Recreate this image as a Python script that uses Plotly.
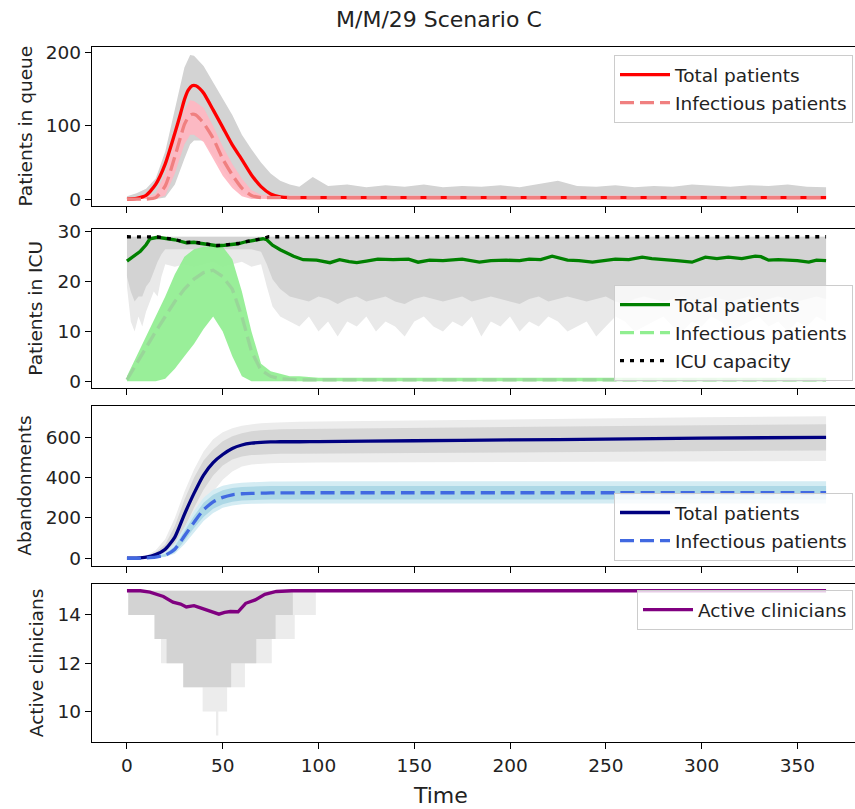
import plotly.graph_objects as go

# ---------------- data ----------------
# Panel 1: patients in queue
t_q = [0, 5, 10, 15, 20, 25, 28, 30, 32, 34,
       36, 38, 40, 45, 50, 55, 60, 65, 70, 75,
       80, 85, 90, 365]
q_total = [0, 1, 5, 20, 48, 90, 117, 136, 149, 155,
           155, 151, 145, 122, 98, 74, 54, 33, 17, 7,
           3, 2, 2, 2]
q_infect = [0, 0, 0, 2, 18, 58, 85, 102, 112, 116,
            115, 110, 104, 83, 55, 33, 15, 5, 2, 2,
            2, 2, 2, 2]

t_q_env = [0, 5, 10, 15, 20, 25, 30, 33, 35, 40,
           45, 50, 55, 60, 65, 70, 75, 80, 85, 90,
           97, 105, 115, 125, 135, 145, 155, 165, 175, 185,
           195, 205, 215, 225, 235, 245, 255, 265, 275, 285,
           295, 305, 315, 325, 335, 345, 355, 365]
q_runs_hi = [4, 8, 14, 28, 65, 123, 180, 197, 196, 182,
             160, 138, 115, 88, 68, 50, 35, 25, 20, 17,
             30, 18, 20, 16, 19, 17, 20, 16, 18, 17,
             19, 16, 20, 25, 18, 17, 19, 16, 18, 17,
             20, 18, 17, 19, 18, 20, 17, 16]
q_runs_lo = [0, 0, 0, 0, 2, 20, 55, 75, 80, 80,
             60, 40, 22, 8, 2, 1, 0, 0, 0, 0,
             0, 0, 0, 0, 0, 0, 0, 0, 0, 0,
             0, 0, 0, 0, 0, 0, 0, 0, 0, 0,
             0, 0, 0, 0, 0, 0, 0, 0]
t_q_inf_env = [0, 10, 15, 20, 25, 30, 33, 35, 40, 45, 50, 55, 60, 65, 70, 75, 80, 365]
q_inf_runs_hi = [1, 2, 8, 35, 80, 122, 135, 134, 125, 100, 72, 48, 28, 12, 6, 5, 5, 5]
q_inf_runs_lo = [0, 0, 0, 5, 35, 75, 88, 88, 78, 55, 32, 15, 4, 0, 0, 0, 0, 0]

# Panel 2: patients in ICU
t_icu = [0, 3, 7, 10, 12, 16, 20, 25, 31, 35,
         38, 42, 47, 51, 55, 58, 62, 67, 71, 73,
         76, 80, 83, 87, 92, 99, 106, 111, 116, 120,
         125, 131, 139, 147, 152, 158, 165, 175, 184, 190,
         198, 205, 210, 216, 222, 230, 236, 243, 249, 255,
         262, 269, 274, 279, 287, 295, 302, 308, 314, 321,
         328, 331, 335, 340, 345, 350, 356, 360, 365]
icu_total = [24.1, 24.9, 26.1, 27.4, 28.6, 28.9, 28.7, 28.4, 27.8, 27.9,
             27.7, 27.5, 27.2, 27.3, 27.4, 27.6, 28.0, 28.3, 28.6, 28.4,
             27.3, 26.4, 25.8, 25.1, 24.4, 24.3, 23.8, 24.4, 24.0, 23.8,
             24.1, 24.5, 24.4, 24.5, 23.9, 24.3, 24.2, 24.5, 23.9, 24.2,
             24.3, 24.2, 24.5, 24.4, 25.1, 24.3, 24.2, 23.9, 24.2, 24.5,
             24.4, 24.9, 24.6, 24.5, 24.2, 23.9, 24.9, 24.6, 24.9, 24.6,
             25.1, 25.0, 24.3, 24.4, 24.3, 24.2, 23.9, 24.3, 24.2]
t_icu_inf = [0, 5, 10, 15, 20, 25, 30, 35, 40, 45, 50, 55, 60, 65, 70, 75, 80, 90, 365]
icu_infect = [0.3, 3.5, 7, 10, 13, 16, 18.5, 20.5, 21.8, 22.3, 21, 18.5, 13, 6, 2.2, 1, 0.5, 0.3, 0.3]
t_icu_inf_env = [0, 5, 10, 15, 20, 25, 30, 35, 40, 45, 50, 55, 60, 65, 70, 75, 80, 85, 90, 100, 365]
icu_inf_runs_hi = [1, 5, 9, 13, 17, 21.5, 25, 26.5, 27, 27, 27, 24.5, 18, 10, 3.5, 2, 1.5, 1, 1, 0.7, 0.7]
icu_inf_runs_lo = [0, 0, 0, 0, 0.5, 2.5, 5, 7.5, 10.5, 13, 10, 5, 1, 0, 0, 0, 0, 0, 0, 0, 0]
t_cap = [0, 12, 16, 20, 25, 31, 35, 38, 42, 47, 51, 55, 58, 62, 67, 71, 74, 365]
icu_capacity = [29, 29, 28.95, 28.75, 28.45, 27.85, 27.95, 27.75, 27.55, 27.25,
                27.35, 27.45, 27.65, 28.05, 28.35, 28.65, 29, 29]
t_icu_env = [0, 2, 4, 6, 8, 10, 12, 14, 16, 18,
             20, 25, 30, 35, 40, 45, 50, 55, 60, 65,
             70, 73, 76, 80, 85,
             90, 95, 100, 105, 110, 115, 120, 125, 130, 135,
             140, 145, 150, 155, 160, 165, 170, 175, 180, 185,
             190, 195, 200, 205, 210, 215, 220, 225, 230, 235,
             240, 245, 250, 255, 260, 265, 270, 275, 280, 285,
             290, 295, 300, 305, 310, 315, 320, 325, 330, 335,
             340, 345, 350, 355, 360, 365]
icu_runs_hi = [29] * len(t_icu_env)
icu_runs_dense_lo = [21, 18, 16, 17, 17, 19, 20, 22, 24, 25.5,
                     26.5, 26.5, 26.5, 26.5, 26.5, 26.5, 26.5, 26.5, 26.5, 26.5,
                     26, 23.5, 20.5, 18.5, 17,
                     16.5, 16, 17, 16.5, 15.5, 16.5, 17, 16, 16.5, 17,
                     16, 15.5, 16.5, 17, 16.5, 16, 16.5, 17, 16, 16.5,
                     17, 16.5, 16, 15.5, 16.5, 17, 16, 16.5, 17, 16.5,
                     16, 16.5, 17, 16, 15.5, 16.5, 17, 16.5, 16, 16.5,
                     17, 16, 16.5, 17, 16.5, 16, 16.5, 17, 16, 16.5,
                     17, 16.5, 16, 16.5, 17, 16.5]
icu_runs_sparse_lo = [19, 12, 10, 13, 11, 14, 16, 18, 17, 21,
                      23.5, 23, 23.5, 23, 23.5, 24, 23, 23.5, 24, 23,
                      23.5, 19, 15, 13, 12,
                      11, 13, 10, 12, 9, 12, 11, 13, 10, 12,
                      11, 9, 12, 13, 11, 10, 12, 11, 13, 9,
                      12, 11, 13, 10, 12, 11, 13, 12, 10, 11,
                      12, 9, 11, 13, 12, 10, 11, 12, 13, 11,
                      10, 12, 11, 13, 12, 10, 11, 12, 13, 11,
                      12, 10, 12, 11, 13, 12]

# Panel 3: abandonments
t_ab = [0, 5, 10, 15, 20, 25, 30, 35, 40, 45, 50, 55, 60, 65, 70, 75, 80, 90, 100, 150, 200, 250, 300, 365]
ab_total = [0, 1, 5, 18, 45, 105, 218, 322, 413, 475, 515, 545, 562, 571, 575, 577, 578, 578, 579, 583, 587, 591, 596, 600]
ab_infect = [0, 0, 2, 6, 15, 45, 110, 178, 240, 280, 302, 315, 320, 322, 323, 324, 324, 325, 325, 325, 325, 325, 325, 325]
ab_runs_dense_hi = [0, 2, 8, 28, 70, 160, 290, 400, 485, 540, 580, 605, 620, 630, 635, 638, 640, 641, 642, 645, 650, 655, 660, 665]
ab_runs_dense_lo = [0, 0, 2, 10, 25, 65, 150, 250, 340, 410, 460, 490, 505, 512, 515, 517, 518, 519, 520, 522, 525, 527, 530, 535]
ab_runs_sparse_hi = [0, 3, 12, 40, 95, 200, 330, 440, 530, 590, 625, 645, 658, 665, 670, 673, 675, 677, 678, 684, 690, 695, 700, 705]
ab_runs_sparse_lo = [0, 0, 0, 5, 15, 40, 100, 180, 260, 330, 390, 430, 455, 465, 470, 472, 473, 474, 475, 476, 478, 479, 480, 482]
ab_inf_dense_hi = [0, 0, 3, 9, 22, 60, 135, 210, 275, 315, 338, 348, 353, 356, 357, 358, 358, 358, 358, 358, 358, 358, 358, 358]
ab_inf_dense_lo = [0, 0, 1, 3, 9, 30, 85, 150, 205, 245, 268, 280, 286, 289, 290, 291, 291, 291, 291, 291, 291, 291, 291, 291]
ab_inf_sparse_hi = [0, 1, 4, 12, 30, 75, 155, 235, 300, 340, 360, 370, 375, 378, 380, 381, 381, 382, 382, 382, 382, 382, 382, 382]
ab_inf_sparse_lo = [0, 0, 0, 2, 6, 22, 70, 130, 185, 225, 250, 262, 268, 270, 272, 272, 272, 272, 272, 272, 272, 272, 272, 272]

# Panel 4: active clinicians
t_clin = [0, 7, 12, 19, 24, 28, 31, 35, 38, 42, 48, 51, 54, 58, 62, 67, 72, 78, 86, 365]
clinicians = [15, 15, 14.94, 14.76, 14.53, 14.45, 14.33, 14.38, 14.3, 14.2,
              14.03, 14.1, 14.14, 14.13, 14.48, 14.62, 14.85, 14.97, 15, 15]
t_clin_dense = [0.7, 14.4, 20.7, 29.4, 54.4, 67.5, 77.6, 86.6]
clin_dense_lo = [14, 13, 12, 11, 12, 13, 14, 15]
t_clin_sparse = [0.7, 14.4, 17.8, 29.4, 39.5, 46.5, 47.7, 52.3, 61.6, 75.6, 87.6, 98.6]
clin_sparse_lo = [14, 13, 12, 11, 10, 9, 10, 11, 12, 13, 14, 15]
clin_max = 15

x_ticks = [0, 50, 100, 150, 200, 250, 300, 350]

# ---------------- layout helpers ----------------
W, H = 855, 809
FONT = "DejaVu Sans"
TXT = "#222222"
LW = 3.3
DASH = "14px,6px"
DOT = "4px,6px"


def fy(p):
    return 1 - p / H


panels = [(47, 206), (229.3, 388), (405.7, 565.7), (584, 742.3)]
yranges = [[-9.5, 208], [-1.35, 30.5], [-37, 757], [8.72, 15.28]]
yticks = [[0, 100, 200], [0, 10, 20, 30], [0, 200, 400, 600], [10, 12, 14]]
ylabels = ["Patients in queue", "Patients in ICU", "Abandonments", "Active clinicians"]
ylabel_x = [25, 36, 25, 36]
legend_tops = [55, 285, 493, 590]

fig = go.Figure()


def ax(i):
    return ("x" if i == 0 else f"x{i+1}"), ("y" if i == 0 else f"y{i+1}")


def band(i, x, lo, hi, color, shape="linear"):
    xa, ya = ax(i)
    fig.add_trace(go.Scatter(x=x, y=lo, mode="lines", line=dict(width=0, color=color, shape=shape),
                             showlegend=False, hoverinfo="skip", xaxis=xa, yaxis=ya))
    fig.add_trace(go.Scatter(x=x, y=hi, mode="lines", line=dict(width=0, color=color, shape=shape),
                             fill="tonexty", fillcolor=color,
                             showlegend=False, hoverinfo="skip", xaxis=xa, yaxis=ya))


def line(i, x, y, color, name=None, dash="solid", legend_color=None, shape="linear"):
    xa, ya = ax(i)
    leg = "legend" if i == 0 else f"legend{i+1}"
    ln = dict(color=color, width=LW, dash=dash, shape=shape)
    if shape == "spline":
        ln["smoothing"] = 0.6
    if legend_color is None:
        fig.add_trace(go.Scatter(x=x, y=y, mode="lines", name=name, line=ln,
                                 showlegend=name is not None, legend=leg, legendgroup=f"{i}{name}",
                                 xaxis=xa, yaxis=ya))
    else:
        fig.add_trace(go.Scatter(x=x, y=y, mode="lines", line=ln,
                                 showlegend=False, xaxis=xa, yaxis=ya))
        fig.add_trace(go.Scatter(x=[None], y=[None], mode="lines", name=name,
                                 line=dict(color=legend_color, width=LW, dash=dash),
                                 legend=leg, legendgroup=f"{i}{name}", xaxis=xa, yaxis=ya))


# Panel 1
band(0, t_q_env, q_runs_lo, q_runs_hi, "#d3d3d3")
band(0, t_q_inf_env, q_inf_runs_lo, q_inf_runs_hi, "rgba(255,182,193,0.92)")
line(0, t_q, q_total, "#ff0000", "Total patients", shape="spline")
line(0, t_q, q_infect, "#f08080", "Infectious patients", dash=DASH, shape="spline")

# Panel 2
band(1, t_icu_env, icu_runs_sparse_lo, icu_runs_hi, "#e9e9e9")
band(1, t_icu_env, icu_runs_dense_lo, icu_runs_hi, "#d3d3d3")
band(1, t_icu_inf_env, icu_inf_runs_lo, icu_inf_runs_hi, "rgba(144,238,144,0.92)")
line(1, t_icu, icu_total, "#008000", "Total patients")
line(1, t_icu_inf, icu_infect, "#99d699", "Infectious patients", dash=DASH, legend_color="#90ee90")
line(1, t_cap, icu_capacity, "#000000", "ICU capacity", dash=DOT)

# Panel 3
band(2, t_ab, ab_runs_sparse_lo, ab_runs_sparse_hi, "#ececec")
band(2, t_ab, ab_runs_dense_lo, ab_runs_dense_hi, "#d6d6d6")
band(2, t_ab, ab_inf_sparse_lo, ab_inf_sparse_hi, "#d4ecf3")
band(2, t_ab, ab_inf_dense_lo, ab_inf_dense_hi, "#add8e6")
line(2, t_ab, ab_total, "#000080", "Total patients", shape="spline")
line(2, t_ab, ab_infect, "#4169e1", "Infectious patients", dash=DASH, shape="spline")

# Panel 4
band(3, t_clin_sparse, clin_sparse_lo, [clin_max] * len(t_clin_sparse), "#ececec", shape="hv")
band(3, t_clin_dense, clin_dense_lo, [clin_max] * len(t_clin_dense), "#d3d3d3", shape="hv")
line(3, t_clin, clinicians, "#800080", "Active clinicians")

layout = dict(width=W, height=H, margin=dict(l=0, r=0, t=0, b=0, autoexpand=False),
              paper_bgcolor="white", plot_bgcolor="white",
              font=dict(family=FONT, size=18.5, color=TXT), showlegend=True)

annotations = []
for i in range(4):
    top, bot = panels[i]
    xa_name = "xaxis" if i == 0 else f"xaxis{i+1}"
    ya_name = "yaxis" if i == 0 else f"yaxis{i+1}"
    xa, ya = ax(i)
    layout[xa_name] = dict(domain=[92 / W, 1], range=[-18.25, 380.1], anchor=ya, automargin=False,
                           showline=True, mirror=True, linecolor="black", linewidth=1.3,
                           ticks="outside", ticklen=6, tickwidth=1.3, tickcolor="black",
                           tickvals=x_ticks, showticklabels=(i == 3), showgrid=False, zeroline=False,
                           tickfont=dict(size=18.5, color=TXT))
    if i > 0:
        layout[xa_name]["matches"] = "x"
    layout[ya_name] = dict(domain=[fy(bot), fy(top)], range=yranges[i], anchor=xa, automargin=False,
                           showline=True, mirror=False, linecolor="black", linewidth=1.3,
                           ticks="outside", ticklen=6, tickwidth=1.3, tickcolor="black",
                           tickvals=yticks[i], showgrid=False, zeroline=False,
                           tickfont=dict(size=18.5, color=TXT))
    leg_name = "legend" if i == 0 else f"legend{i+1}"
    layout[leg_name] = dict(x=853 / W, xanchor="right", y=fy(legend_tops[i]), yanchor="top",
                            bgcolor="rgba(255,255,255,0.8)", bordercolor="#cccccc", borderwidth=1,
                            font=dict(family=FONT, size=18.5, color=TXT),
                            tracegroupgap=1, itemwidth=50)
    annotations.append(dict(text=ylabels[i], x=ylabel_x[i] / W, y=fy((top + bot) / 2),
                            xref="paper", yref="paper", xanchor="center", yanchor="middle",
                            textangle=-90, showarrow=False, font=dict(size=18.5, color=TXT)))

annotations.append(dict(text="M/M/29 Scenario C", x=439 / W, y=fy(19), xref="paper", yref="paper",
                        xanchor="center", yanchor="middle", showarrow=False,
                        font=dict(size=22, color=TXT)))
annotations.append(dict(text="Time", x=440 / W, y=fy(795), xref="paper", yref="paper",
                        xanchor="center", yanchor="middle", showarrow=False,
                        font=dict(size=22, color=TXT)))
layout["annotations"] = annotations
fig.update_layout(**layout)

fig.write_html("out.html")
